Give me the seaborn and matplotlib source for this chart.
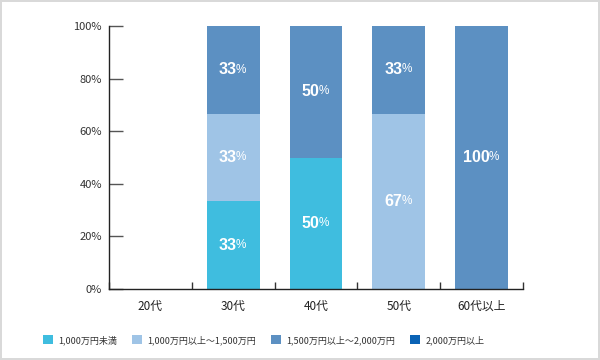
import matplotlib
matplotlib.use("Agg")
import matplotlib.pyplot as plt
from matplotlib.patches import Patch
import numpy as np
import pandas as pd
import seaborn as sns

sns.set_theme(style="white")
plt.rcParams['font.family'] = ['Noto Sans CJK JP', 'DejaVu Sans']

# データ
ages = ['20代', '30代', '40代', '50代', '60代以上']
bands = ['1,000万円未満', '1,000万円以上～1,500万円', '1,500万円以上～2,000万円', '2,000万円以上']
pct = {
    bands[0]: [0, 33.3, 50, 0, 0],
    bands[1]: [0, 33.3, 0, 66.7, 0],
    bands[2]: [0, 33.4, 50, 33.3, 100],
    bands[3]: [0, 0, 0, 0, 0],
}
colors = ['#3fbddf', '#9fc4e6', '#5c90c2', '#0a63b5']

fig = plt.figure(figsize=(6, 3.6), dpi=100)
fig.patch.set_edgecolor('#d9d9d9')
fig.patch.set_linewidth(1.5)
ax = fig.add_axes([109 / 600, 71 / 360, 414 / 600, 263 / 360])

bottom = np.zeros(len(ages))
for band, col in zip(bands, colors):
    vals = np.array(pct[band], dtype=float)
    df = pd.DataFrame({'age': ages, 'pct': vals})
    sns.barplot(data=df, x='age', y='pct', order=ages, bottom=bottom,
                color=col, width=0.64, linewidth=0, saturation=1, ax=ax)
    for i, v in enumerate(vals):
        if v > 0:
            t = ax.annotate(f'{v:.0f}', (i, bottom[i] + v / 2), xytext=(-4, 0),
                            textcoords='offset points', ha='center', va='center',
                            color='white', fontsize=11.5, fontweight='bold',
                            family=['Liberation Sans', 'DejaVu Sans'])
            ax.annotate('%', xy=(1, 0.12), xycoords=t, xytext=(-0.4, 0),
                        textcoords='offset points', ha='left', va='bottom',
                        color='white', fontsize=8.5,
                        family=['Liberation Sans', 'DejaVu Sans'])
    bottom += vals

ax.set_xlim(-0.5, len(ages) - 0.5)
ax.set_ylim(0, 100)
ax.set_yticks(np.arange(0, 101, 20))
ax.set_yticklabels([f'{v}%' for v in range(0, 101, 20)])
ax.set_xticks(np.arange(-0.5, len(ages), 1), minor=True)
ax.set_xlabel('')
ax.set_ylabel('')

for s in ['top', 'right']:
    ax.spines[s].set_visible(False)
for s in ['left', 'bottom']:
    ax.spines[s].set_color('#222222')
    ax.spines[s].set_linewidth(1)

ax.tick_params(axis='y', direction='in', length=10, width=1, color='#555555',
               labelsize=8, labelcolor='#333333', pad=5, left=True)
ax.tick_params(axis='x', which='major', length=0, labelsize=8.5,
               labelcolor='#222222', pad=8)
ax.tick_params(axis='x', which='minor', direction='in', length=5, width=1,
               color='#333333', bottom=True)

handles = [Patch(facecolor=c, edgecolor='none', label=b) for b, c in zip(bands, colors)]
fig.legend(handles=handles, loc='center left', bbox_to_anchor=(35 / 600, 20 / 360),
           ncol=4, frameon=False, fontsize=6.5, handlelength=1.1, handleheight=1.1,
           handletextpad=0.55, columnspacing=1.7, labelcolor='#333333')

fig.savefig('out.png', dpi=100, edgecolor=fig.get_edgecolor())
